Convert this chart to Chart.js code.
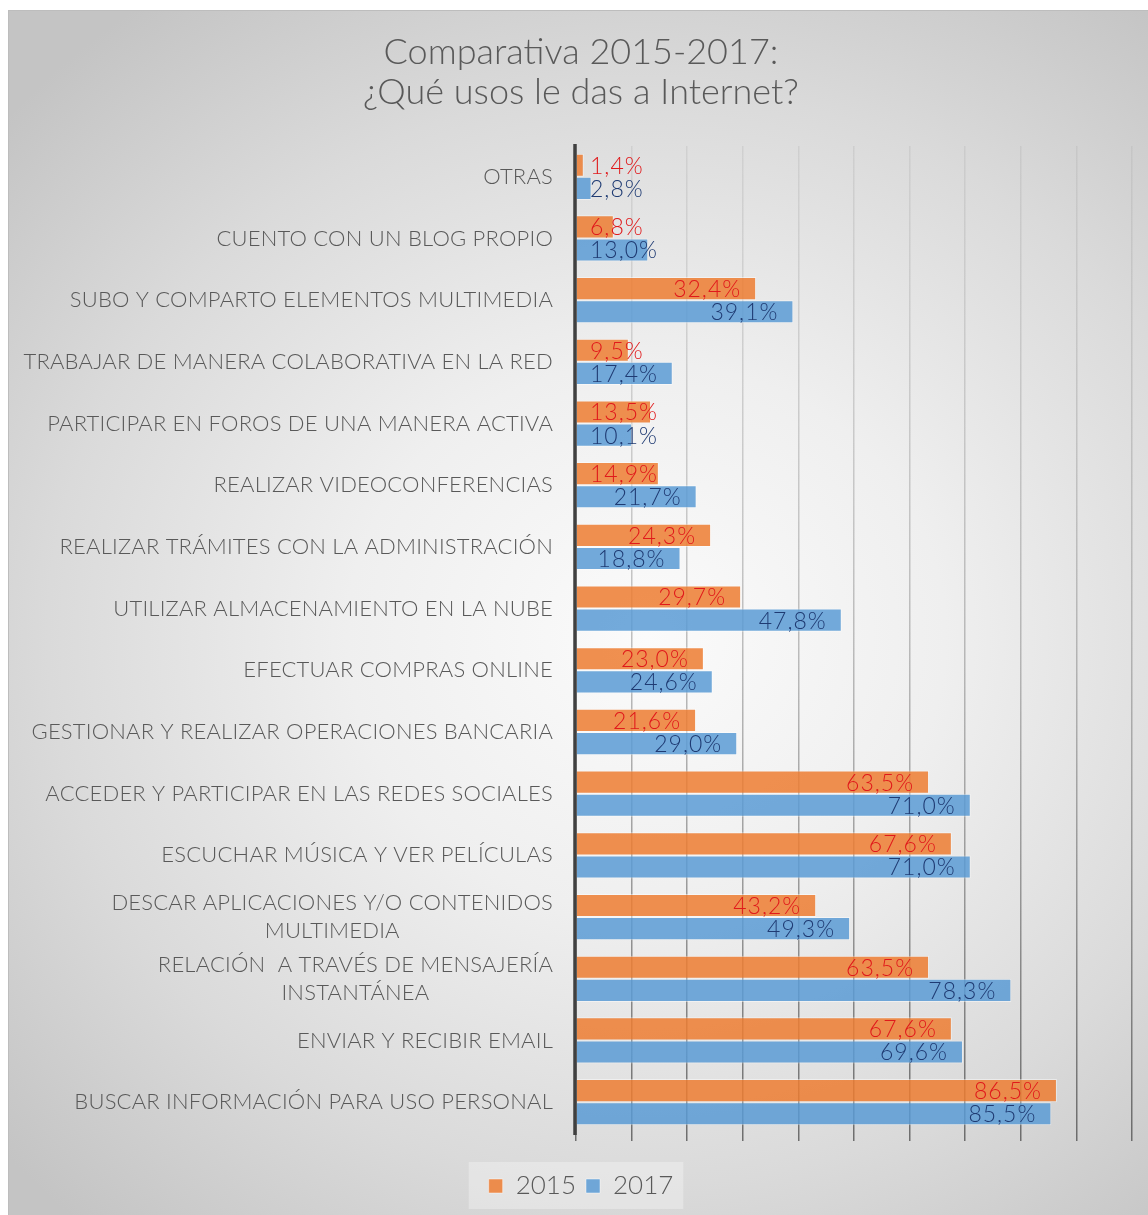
<!DOCTYPE html>
<html>
<head>
<meta charset="utf-8">
<script src="https://cdn.jsdelivr.net/npm/chart.js@4.4.1/dist/chart.umd.min.js"></script>
<style>
  html, body { margin: 0; padding: 0; background: #fff; }
  #card {
    position: absolute; left: 8px; top: 10px; width: 1140px; height: 1205px;
    background: radial-gradient(ellipse 75% 65% at 56% 52%, #fbfbfb 0%, #efefef 35%, #dadada 70%, #c4c4c4 100%);
    box-shadow: inset 1px 1px 0 #bdbdbd;
  }
  canvas { display: block; }
</style>
</head>
<body>
<div id="card"><canvas id="usosChart" width="1140" height="1205"></canvas></div>
<script>
  const categories = [
    'OTRAS',
    'CUENTO CON UN BLOG PROPIO',
    'SUBO Y COMPARTO ELEMENTOS MULTIMEDIA',
    'TRABAJAR DE MANERA COLABORATIVA EN LA RED',
    'PARTICIPAR EN FOROS DE UNA MANERA ACTIVA',
    'REALIZAR VIDEOCONFERENCIAS',
    'REALIZAR TRÁMITES CON LA ADMINISTRACIÓN',
    'UTILIZAR ALMACENAMIENTO EN LA NUBE',
    'EFECTUAR COMPRAS ONLINE',
    'GESTIONAR Y REALIZAR OPERACIONES BANCARIA',
    'ACCEDER Y PARTICIPAR EN LAS REDES SOCIALES',
    'ESCUCHAR MÚSICA Y VER PELÍCULAS',
    ['DESCAR APLICACIONES Y/O CONTENIDOS', 'MULTIMEDIA'],
    ['RELACIÓN  A TRAVÉS DE MENSAJERÍA', 'INSTANTÁNEA'],
    'ENVIAR Y RECIBIR EMAIL',
    'BUSCAR INFORMACIÓN PARA USO PERSONAL'
  ];
  const values2015 = [1.4, 6.8, 32.4, 9.5, 13.5, 14.9, 24.3, 29.7, 23.0, 21.6, 63.5, 67.6, 43.2, 63.5, 67.6, 86.5];
  const values2017 = [2.8, 13.0, 39.1, 17.4, 10.1, 21.7, 18.8, 47.8, 24.6, 29.0, 71.0, 71.0, 49.3, 78.3, 69.6, 85.5];
  const seriesNames = ['2015', '2017'];

  const FONT = 'Lato, "Open Sans", sans-serif';
  const GRAY = '#595959';

  // category labels: right block, extra lines centred under the first (like Excel)
  const yLabels = {
    id: 'yLabels',
    afterDraw(chart) {
      const { ctx } = chart;
      const y = chart.scales.y;
      const right = chart.chartArea.left - 23;
      ctx.save();
      ctx.font = '300 22px ' + FONT;
      ctx.letterSpacing = '0.2px';
      ctx.fillStyle = GRAY;
      ctx.textBaseline = 'middle';
      ctx.textAlign = 'center';
      categories.forEach((lab, i) => {
        const lines = Array.isArray(lab) ? lab : [lab];
        const w = Math.max(...lines.map(l => ctx.measureText(l).width));
        const cy = y.getPixelForTick(i);
        const lh = 28;
        lines.forEach((l, k) => {
          ctx.fillText(l, right - w / 2, cy + (k - (lines.length - 1) / 2) * lh);
        });
      });
      ctx.restore();
    }
  };

  // value labels at the inside end of each bar, plus the dark vertical axis line
  const valueLabels = {
    id: 'valueLabels',
    afterDatasetsDraw(chart) {
      const { ctx, chartArea } = chart;
      const base = chartArea.left;
      const colors = ['#e0191b', '#1f3b73'];
      ctx.save();
      ctx.strokeStyle = '#404040';
      ctx.lineWidth = 3.5;
      ctx.beginPath();
      ctx.moveTo(base - 1, chartArea.top - 2);
      ctx.lineTo(base - 1, chartArea.bottom + 2);
      ctx.stroke();

      ctx.font = '300 23px ' + FONT;
      ctx.letterSpacing = '1px';
      ctx.textBaseline = 'middle';
      ctx.textAlign = 'left';
      chart.data.datasets.forEach((ds, di) => {
        const meta = chart.getDatasetMeta(di);
        ctx.fillStyle = colors[di];
        meta.data.forEach((bar, i) => {
          const txt = ds.data[i].toFixed(1).replace('.', ',') + '%';
          const w = ctx.measureText(txt).width;
          const x = Math.max(bar.x - 15 - w, base + 14);
          ctx.fillText(txt, x, bar.y + 1);
        });
      });
      ctx.restore();
    }
  };

  const legendBack = {
    id: 'legendBack',
    beforeDraw(chart) {
      const boxes = chart.legend && chart.legend.legendHitBoxes;
      if (!boxes || !boxes.length) return;
      const l = Math.min(...boxes.map(b => b.left)) - 20;
      const r = Math.max(...boxes.map(b => b.left + b.width)) + 10;
      const t = boxes[0].top - 11;
      const { ctx } = chart;
      ctx.save();
      ctx.fillStyle = 'rgba(255,255,255,0.3)';
      ctx.fillRect(l, t, r - l, 47);
      ctx.restore();
    }
  };

  function gridColor(context) {
    const chart = context.chart;
    const area = chart.chartArea;
    if (!area) return 'rgba(150,150,150,0.5)';
    const g = chart.ctx.createLinearGradient(0, area.top, 0, area.bottom + 10);
    g.addColorStop(0, 'rgba(175,175,175,0.3)');
    g.addColorStop(0.5, 'rgba(140,140,140,0.55)');
    g.addColorStop(1, 'rgba(90,90,90,0.85)');
    return g;
  }

  new Chart(document.getElementById('usosChart'), {
    type: 'bar',
    data: {
      labels: categories,
      datasets: [
        {
          label: seriesNames[0],
          data: values2015,
          backgroundColor: 'rgba(237,125,49,0.85)',
          borderColor: 'rgba(255,255,255,0.45)',
          borderWidth: 1
        },
        {
          label: seriesNames[1],
          data: values2017,
          backgroundColor: 'rgba(91,155,213,0.85)',
          borderColor: 'rgba(255,255,255,0.45)',
          borderWidth: 1
        }
      ]
    },
    options: {
      indexAxis: 'y',
      responsive: false,
      animation: false,
      categoryPercentage: 0.75,
      barPercentage: 1.0,
      layout: { padding: { left: 22, right: 16, top: 0, bottom: 6 } },
      plugins: {
        title: {
          display: true,
          text: ['Comparativa 2015-2017:', '¿Qué usos le das a Internet?'],
          color: GRAY,
          font: { family: FONT, size: 36, weight: '300', lineHeight: 1.11 },
          padding: { top: 22, bottom: 34 }
        },
        legend: {
          position: 'bottom',
          labels: {
            color: GRAY,
            font: { family: FONT, size: 26, weight: '300' },
            boxWidth: 14,
            boxHeight: 14,
            padding: 10
          }
        },
        tooltip: { enabled: false }
      },
      scales: {
        x: {
          min: 0,
          max: 100,
          ticks: { display: false, stepSize: 10 },
          grid: { color: gridColor, lineWidth: 1.5, drawTicks: true, tickLength: 8 },
          border: { display: false },
          afterFit(scale) { scale.height = 30; }
        },
        y: {
          ticks: { display: false },
          grid: { display: false },
          border: { display: false },
          afterFit(scale) { scale.width = 546; }
        }
      }
    },
    plugins: [yLabels, valueLabels, legendBack]
  });
</script>
</body>
</html>
